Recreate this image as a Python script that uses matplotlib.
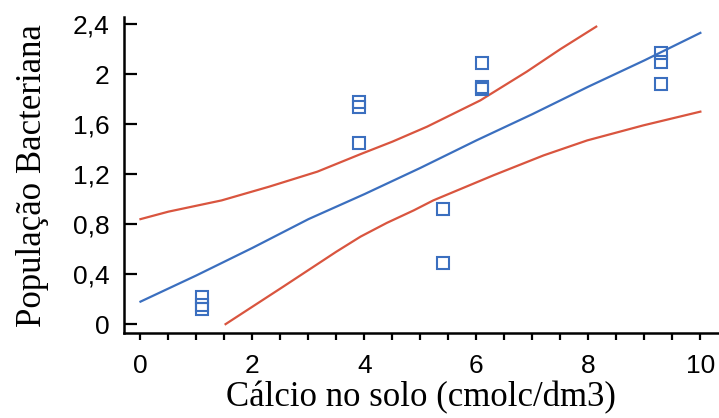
import matplotlib
matplotlib.use("Agg")
import matplotlib.pyplot as plt
from matplotlib.ticker import MultipleLocator, FuncFormatter

# Observations: calcium in soil vs. bacterial population
calcio = [1.1, 1.1, 1.1, 3.9, 3.9, 3.9, 5.4, 5.4, 6.1, 6.1, 6.1, 9.3, 9.3, 9.3]
populacao = [0.22, 0.15, 0.12, 1.78, 1.74, 1.45, 0.92, 0.49, 2.09, 1.90, 1.88, 2.17, 2.10, 1.92]

# Fitted regression line
fit_x = [0.0, 1.0, 2.0, 3.0, 4.0, 5.0, 6.0, 7.0, 8.0, 9.0, 10.0]
fit_y = [0.18, 0.39, 0.61, 0.84, 1.04, 1.25, 1.47, 1.68, 1.90, 2.11, 2.33]

# Upper confidence band
upper_x = [0.0, 0.5, 1.45, 2.3, 3.16, 3.93, 4.5, 5.12, 6.07, 6.9, 7.5, 8.14]
upper_y = [0.84, 0.90, 0.99, 1.10, 1.22, 1.36, 1.46, 1.58, 1.79, 2.02, 2.20, 2.38]

# Lower confidence band
lower_x = [1.52, 2.55, 3.5, 3.93, 4.4, 4.88, 5.23, 6.3, 7.2, 7.98, 8.98, 10.0]
lower_y = [0.0, 0.30, 0.58, 0.70, 0.81, 0.91, 0.99, 1.19, 1.35, 1.47, 1.59, 1.70]

BLUE = "#3b6fbf"
RED = "#d9553f"

fig = plt.figure(figsize=(7.19, 4.18), dpi=100)
ax = fig.add_axes([0.172, 0.203, 0.827, 0.756])

ax.plot(upper_x, upper_y, color=RED, lw=1.6)
ax.plot(lower_x, lower_y, color=RED, lw=1.6)
ax.plot(fit_x, fit_y, color=BLUE, lw=1.6)
ax.plot(calcio, populacao, linestyle="none", marker="s", markersize=9,
        markerfacecolor="none", markeredgecolor=BLUE, markeredgewidth=1.5)

ax.set_xlim(-0.3, 10.32)
ax.set_ylim(-0.072, 2.456)

for side in ("top", "right"):
    ax.spines[side].set_visible(False)
for side in ("left", "bottom"):
    ax.spines[side].set_linewidth(1.8)

ax.xaxis.set_major_locator(MultipleLocator(2))
ax.xaxis.set_minor_locator(MultipleLocator(0.5))
ax.yaxis.set_major_locator(MultipleLocator(0.4))

comma = FuncFormatter(lambda v, p: ("%g" % round(v, 2)).replace(".", ","))
ax.yaxis.set_major_formatter(comma)
ax.xaxis.set_major_formatter(comma)

ax.tick_params(axis="x", which="both", direction="out", length=5, width=1.6, pad=10)
ax.tick_params(axis="y", which="major", direction="in", length=9, width=1.6, pad=10)
for lab in ax.get_xticklabels() + ax.get_yticklabels():
    lab.set_fontfamily("Liberation Sans")
    lab.set_fontsize(19)

ax.set_xlabel("Cálcio no solo (cmolc/dm3)", fontfamily="Liberation Serif", fontsize=25, labelpad=2)
ax.set_ylabel("População Bacteriana", fontfamily="Liberation Serif", fontsize=25, labelpad=17)

fig.savefig("out.png", dpi=100)
